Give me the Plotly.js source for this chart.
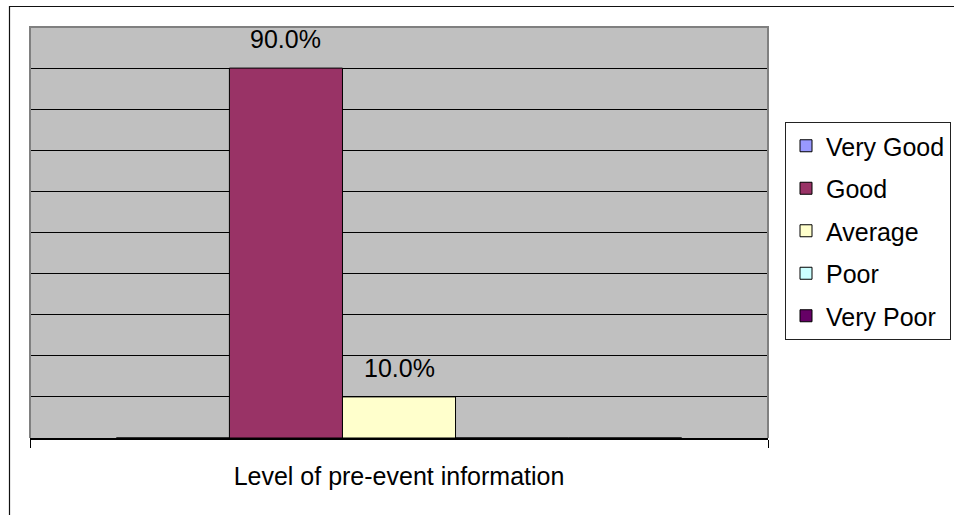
<!DOCTYPE html>
<html>
<head>
<meta charset="utf-8">
<script src="https://cdn.plot.ly/plotly-3.0.1.min.js"></script>
<style>html,body{margin:0;padding:0;background:#fff;}#chart{width:954px;height:515px;}</style>
</head>
<body>
<div id="chart"></div>
<script>
const categories = ["Level of pre-event information"];
const seriesNames = ["Very Good", "Good", "Average", "Poor", "Very Poor"];
const seriesValues = [0, 0.9, 0.1, 0, 0];
const seriesColors = ["#9999FF", "#993366", "#FFFFCC", "#CCFFFF", "#660066"];

const FONT = "Liberation Sans, Arial, sans-serif";
const FS = 25;
const bargap = 0.234;
const n = seriesNames.length;

const traces = seriesNames.map((name, i) => ({
  type: "bar",
  name: name,
  x: categories,
  y: [seriesValues[i]],
  legendgroup: "g" + i,
  marker: { color: seriesColors[i], line: { color: "#000", width: 1 } },
  hoverinfo: "name+y"
}));

const slot = (1 - bargap) / n;
const annotations = [];
seriesValues.forEach((v, i) => {
  if (v > 0) {
    annotations.push({
      xref: "x", yref: "y",
      x: (i - (n - 1) / 2) * slot,
      y: v,
      text: (v * 100).toFixed(1) + "%",
      showarrow: false,
      yanchor: "bottom",
      yshift: 13,
      font: { family: FONT, size: FS, color: "#000" }
    });
  }
});

const W = 954, H = 515, L = 30, R = 186, T = 27, B = 77;
const pw = W - L - R, ph = H - T - B;
const px = (x) => (x - L) / pw;
const py = (y) => 1 - (y - T) / ph;

const layout = {
  width: W, height: H,
  margin: { l: L, r: R, t: T, b: B, pad: 0, autoexpand: false },
  paper_bgcolor: "#ffffff",
  plot_bgcolor: "#C0C0C0",
  barmode: "group",
  bargap: bargap,
  bargroupgap: 0,
  font: { family: FONT, size: FS, color: "#000" },
  showlegend: true,
  legend: {
    x: px(785), xanchor: "left",
    y: py(122), yanchor: "top",
    bgcolor: "#ffffff",
    bordercolor: "#222",
    borderwidth: 1,
    traceorder: "grouped",
    tracegroupgap: 7,
    itemwidth: 30,
    font: { family: FONT, size: FS, color: "#000" }
  },
  xaxis: {
    type: "category",
    showline: true, linecolor: "#000", linewidth: 1.5,
    ticks: "outside", tickson: "boundaries", ticklen: 8, tickcolor: "#000", tickwidth: 1,
    ticklabelstandoff: 15,
    tickfont: { family: FONT, size: FS, color: "#000" },
    showgrid: false, zeroline: false, fixedrange: true
  },
  yaxis: {
    range: [0, 1], dtick: 0.1, tick0: 0,
    showgrid: true, gridcolor: "#000", gridwidth: 1,
    showticklabels: false, ticks: "", showline: false, zeroline: false, fixedrange: true
  },
  annotations: annotations,
  shapes: [
    { type: "path", xref: "paper", yref: "paper", path: "M0,0 L0,1 L1,1 L1,0",
      line: { color: "#808080", width: 2 }, layer: "above" },
    { type: "path", xref: "paper", yref: "paper",
      path: `M${px(9.5)},${py(520)} L${px(9.5)},${py(6.5)} L${px(960)},${py(6.5)}`,
      line: { color: "#111", width: 1.2 }, layer: "above" }
  ]
};

Plotly.newPlot("chart", traces, layout, { displayModeBar: false, staticPlot: true });
</script>
</body>
</html>
